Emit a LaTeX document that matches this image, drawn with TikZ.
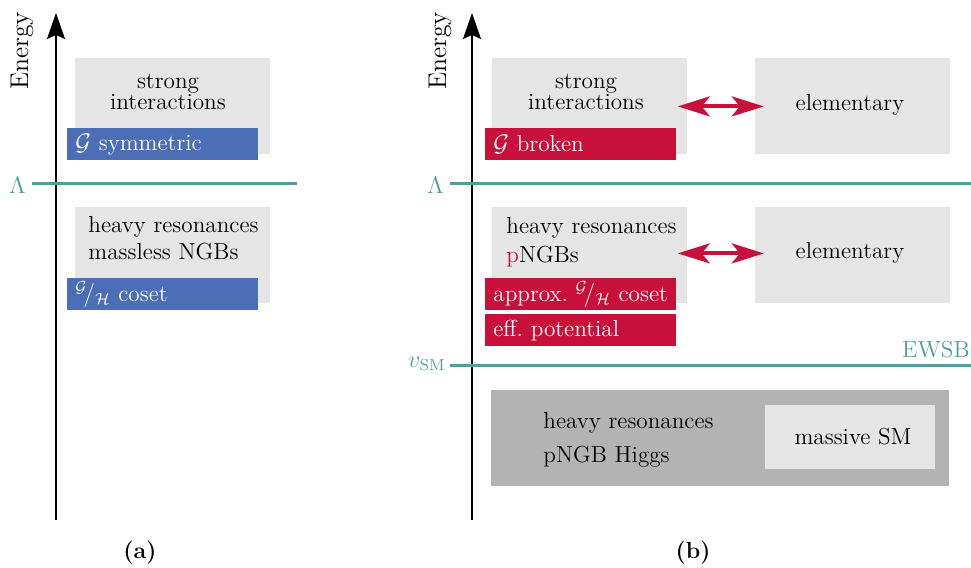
\documentclass[tikz,border=0pt]{standalone}
\usetikzlibrary{arrows.meta, positioning}
\usepackage{xcolor}
\definecolor{lgray}{HTML}{E5E5E5}
\definecolor{dgray}{HTML}{B3B3B3}
\definecolor{symblue}{HTML}{4B6EB7}
\definecolor{brkred}{HTML}{C8113A}
\definecolor{scaleteal}{HTML}{4F9E99}
\newcommand{\figfont}{\fontsize{11.6}{13.5}\selectfont}
\newcommand{\coset}{${}^{\mathcal{G}}\!/{}_{\mathcal{H}}$}
\tikzset{
  gbox/.style={
    rectangle, fill=lgray, inner sep=0pt,
    minimum width=97.5pt, minimum height=48pt, anchor=north west
  },
  dbox/.style={
    rectangle, fill=dgray, inner sep=0pt,
    minimum width=229pt, minimum height=48pt, anchor=north west
  },
  sbox/.style={
    rectangle, fill=lgray, inner sep=0pt,
    minimum width=85pt, minimum height=32pt, anchor=north west
  },
  bbox/.style={
    rectangle, fill=symblue, text=white,
    text width=87.5pt, align=left, inner xsep=4pt, inner ysep=0pt,
    minimum height=16pt, anchor=north west
  },
  rbox/.style={bbox, fill=brkred},
  ltxt/.style={text width=90pt, align=left, inner sep=0pt, anchor=base west},
  ctxt/.style={text width=90pt, align=center, inner sep=0pt, anchor=base,
    font=\fontsize{11.6}{10.5}\selectfont},
  axlabel/.style={rotate=90, inner sep=0pt, font=\fontsize{12.8}{14}\selectfont},
  energyaxis/.style={-{Stealth[length=13pt, width=9pt, inset=2pt]}, line width=1pt},
  lvl/.style={scaleteal, line width=1.5pt},
  darr/.style={{Stealth[length=16pt, width=10pt, inset=4pt]}-{Stealth[length=16pt, width=10pt, inset=4pt]},
    brkred, line width=2pt},
}

\begin{document}
\begin{tikzpicture}[x=0.5pt, y=-0.5pt, font=\figfont]
  \useasboundingbox (0,0) rectangle (971,568);

  % (a)
  \node[gbox] (si1) at (75,58) {};
  \node[gbox] (hr1) at (75,207) {};
  \node[ctxt] (si1t) at (168,88) {strong\\interactions};
  \node[ltxt] (hr1t) at (88,232) {heavy resonances\\massless NGBs};
  \node[bbox] (sym) at (67,128) {$\mathcal{G}$ symmetric};
  \node[bbox] (cos1) at (67,278) {\coset\ coset};

  \coordinate (ax0) at (56,520);
  \coordinate (ax1) at (56,13);
  \draw[energyaxis] (ax0) -- (ax1);
  \node[axlabel] (en1) at (22,51) {Energy};

  \coordinate (la0) at (32,183);
  \coordinate (la1) at (297,183);
  \draw[lvl] (la0) -- (la1);
  \node[scaleteal, anchor=east, inner sep=0pt] (lam1) at (26,185) {$\Lambda$};

  \node[font=\figfont\bfseries] (capa) at (140,553) {(a)};

  % (b)
  \node[gbox] (si2) at (492,58) {};
  \node[gbox, right=33.5pt of si2] (el1) {};
  \node[gbox] (hr2) at (492,207) {};
  \node[gbox, right=33.5pt of hr2] (el2) {};
  \node[ctxt] (si2t) at (586,88) {strong\\interactions};
  \node[ltxt, font=\fontsize{11.6}{14.5}\selectfont] (hr2t) at (506,233)
    {heavy resonances\\{\color{brkred}p}NGBs};
  \node (el1t) at (850,105) {elementary};
  \node (el2t) at (850,253) {elementary};
  \node[rbox] (brk) at (485,128) {$\mathcal{G}$ broken};
  \node[rbox] (ap) at (485,278) {\mbox{approx.\ \coset\ coset}};
  \node[rbox, below=1.5pt of ap] (pot) {eff.\ potential};

  \draw[darr] ([xshift=-5pt]si2.east) -- ([xshift=4.5pt]el1.west);
  \draw[darr] ([xshift=-5pt,yshift=1pt]hr2.east) -- ([xshift=4.5pt,yshift=1pt]el2.west);

  \node[dbox] (ew) at (491,390) {};
  \node[sbox] (sm) at (765,405) {};
  \node[ltxt, font=\fontsize{11.6}{17}\selectfont] (ewt) at (543,428) {heavy resonances\\pNGB Higgs};
  \node (smt) at (853,437) {massive SM};

  \coordinate (bx0) at (472,520);
  \coordinate (bx1) at (472,13);
  \draw[energyaxis] (bx0) -- (bx1);
  \node[axlabel] (en2) at (440,51) {Energy};

  \coordinate (lb0) at (450,183);
  \coordinate (lb1) at (971,183);
  \draw[lvl] (lb0) -- (lb1);
  \node[scaleteal, anchor=east, inner sep=0pt] (lam2) at (444,185) {$\Lambda$};

  \coordinate (vb0) at (450,365);
  \coordinate (vb1) at (971,365);
  \draw[lvl] (vb0) -- (vb1);
  \node[scaleteal, anchor=base east, inner sep=0pt] (vsm) at (446,367) {$v_{\mathrm{SM}}$};
  \node[scaleteal, anchor=base east, inner sep=0pt] (ewsb) at (970,357) {EWSB};

  \node[font=\figfont\bfseries] (capb) at (693,553) {(b)};
\end{tikzpicture}
\end{document}
